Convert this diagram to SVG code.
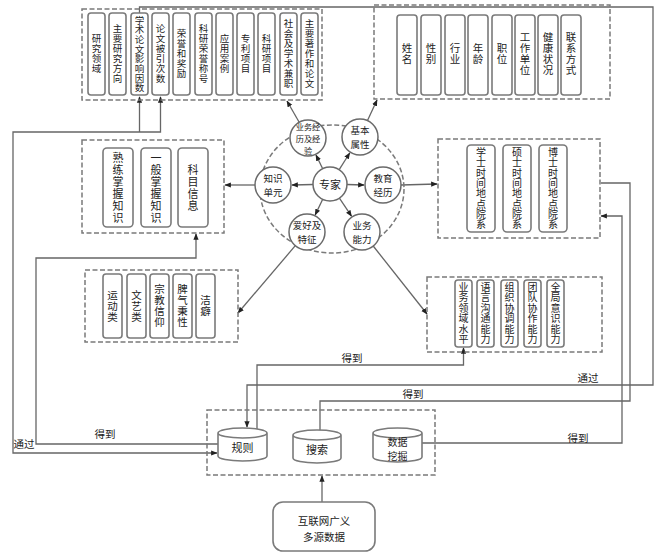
<svg xmlns="http://www.w3.org/2000/svg" width="657" height="553" viewBox="0 0 657 553">
<style>
.dash{fill:none;stroke:#7a7a7a;stroke-width:1.5;stroke-dasharray:5 2.5}
.box{fill:#fff;stroke:#7a7a7a;stroke-width:1.6}
.cir{fill:#fff;stroke:#6a6a6a;stroke-width:1.5}
.t{font-family:"Noto Sans CJK SC","Noto Sans CJK JP",sans-serif;fill:#222;text-anchor:middle;dominant-baseline:central}
.v{writing-mode:vertical-rl;text-orientation:upright}
.s8{font-size:8.2px}.s9{font-size:9.5px}.s10{font-size:10px}.s105{font-size:10.5px}.s11{font-size:11px}
.ls0{letter-spacing:0.2px}.ls1{letter-spacing:0.5px}.ls2{letter-spacing:1px}.ls3{letter-spacing:0.3px}
.ln{fill:none;stroke:#666;stroke-width:1.3}
.ar{marker-end:url(#ah)}
</style>
<defs>
<marker id="ah" viewBox="0 0 10 10" refX="9" refY="5" markerWidth="5" markerHeight="5" orient="auto-start-reverse"><path d="M0,1 L10,5 L0,9 z" fill="#222"/></marker>
</defs>
<rect width="657" height="553" fill="#fff"/>

<g id="connectors">
<path class="ln" d="M139.5,13 V7 H653 V385 H247 V427" marker-end="url(#ah)"/>
<path class="ln" d="M160.5,97 V132 H13 V453 H217" marker-start="url(#ah)" marker-end="url(#ah)"/>
<path class="ln ar" d="M139.5,132 V97"/>
<path class="ln ar" d="M218,444 H36 V258 H196 V234"/>
<path class="ln ar" d="M257,429 V365 H463.5 V348"/>
<path class="ln" d="M320,431 V401 H630 V183 H601"/>
<path class="ln ar" d="M422,443 H622 V216 H601"/>
<path class="ln ar" d="M322,502 V476"/>
<path class="ln ar" d="M299.2,122.3 L287,101"/>
<path class="ln ar" d="M367.5,120.6 L377,100"/>
<path class="ln ar" d="M255,185 L225,185"/>
<path class="ln ar" d="M401,185 L437,184"/>
<path class="ln ar" d="M295.3,245.7 L238,313"/>
<path class="ln ar" d="M373.2,246 L427,314"/>
<path class="ln ar" d="M322.7,168.7 L316,155"/>
<path class="ln ar" d="M339.2,169.7 L349.7,153"/>
<path class="ln ar" d="M313,184.5 L292,185"/>
<path class="ln ar" d="M347,184.5 L364,185"/>
<path class="ln ar" d="M322.7,199.3 L315.2,214.9"/>
<path class="ln ar" d="M339.4,198.1 L351.5,216.2"/>
<text class="t s105" x="24" y="443">通过</text>
<text class="t s105" x="105" y="433">得到</text>
<text class="t s105" x="352" y="357">得到</text>
<text class="t s105" x="588" y="377">通过</text>
<text class="t s105" x="413" y="393">得到</text>
<text class="t s105" x="578" y="437">得到</text>
</g>

<g id="g-research">
<rect class="dash" x="82" y="9" width="240" height="91"/>
<rect class="box" x="88" y="13" width="17" height="82" rx="3"/>
<rect class="box" x="109" y="13" width="17" height="82" rx="3"/>
<rect class="box" x="131" y="13" width="17" height="82" rx="3"/>
<rect class="box" x="152" y="13" width="17" height="82" rx="3"/>
<rect class="box" x="173" y="13" width="17" height="82" rx="3"/>
<rect class="box" x="195" y="13" width="17" height="82" rx="3"/>
<rect class="box" x="216" y="13" width="17" height="82" rx="3"/>
<rect class="box" x="237" y="13" width="17" height="82" rx="3"/>
<rect class="box" x="258" y="13" width="17" height="82" rx="3"/>
<rect class="box" x="280" y="13" width="17" height="82" rx="3"/>
<rect class="box" x="301" y="13" width="17" height="82" rx="3"/>
<text class="t v s9 ls1" x="96.5" y="54">研究领域</text>
<text class="t v s9 ls1" x="117.5" y="54">主要研究方向</text>
<text class="t v s9 ls0" x="139.5" y="54">学术论文影响因数</text>
<text class="t v s9 ls1" x="160.5" y="54">论文被引次数</text>
<text class="t v s9 ls1" x="181.5" y="54">荣誉和奖励</text>
<text class="t v s9 ls1" x="203.5" y="54">科研荣誉称号</text>
<text class="t v s9 ls1" x="224.5" y="54">应用案例</text>
<text class="t v s9 ls1" x="245.5" y="54">专利项目</text>
<text class="t v s9 ls1" x="266.5" y="54">科研项目</text>
<text class="t v s9 ls1" x="288.5" y="54">社会及学术兼职</text>
<text class="t v s9 ls1" x="309.5" y="54">主要著作和论文</text>
</g>

<g id="g-basic">
<rect class="dash" x="374" y="5" width="236" height="94"/>
<rect class="box" x="397" y="15" width="20" height="80" rx="3"/>
<rect class="box" x="421" y="15" width="20" height="80" rx="3"/>
<rect class="box" x="445" y="15" width="20" height="80" rx="3"/>
<rect class="box" x="468" y="15" width="20" height="80" rx="3"/>
<rect class="box" x="492" y="15" width="20" height="80" rx="3"/>
<rect class="box" x="515" y="15" width="20" height="80" rx="3"/>
<rect class="box" x="538" y="15" width="20" height="80" rx="3"/>
<rect class="box" x="561" y="15" width="20" height="80" rx="3"/>
<text class="t v s105 ls1" x="407" y="54">姓名</text>
<text class="t v s105 ls1" x="431" y="54">性别</text>
<text class="t v s105 ls1" x="455" y="54">行业</text>
<text class="t v s105 ls1" x="478" y="54">年龄</text>
<text class="t v s105 ls1" x="502" y="54">职位</text>
<text class="t v s105 ls1" x="525" y="54">工作单位</text>
<text class="t v s105 ls1" x="548" y="54">健康状况</text>
<text class="t v s105 ls1" x="571" y="54">联系方式</text>
</g>

<g id="g-knowledge">
<rect class="dash" x="82" y="140" width="142" height="93"/>
<rect class="box" x="103" y="148" width="30" height="79" rx="4"/>
<rect class="box" x="141" y="148" width="30" height="79" rx="4"/>
<rect class="box" x="178" y="148" width="30" height="79" rx="4"/>
<text class="t v s11 ls2" x="118" y="188">熟练掌握知识</text>
<text class="t v s11 ls2" x="156" y="188">一般掌握知识</text>
<text class="t v s11 ls2" x="193" y="188">科目信息</text>
</g>

<g id="g-education">
<rect class="dash" x="438" y="139" width="162" height="99"/>
<rect class="box" x="467" y="145" width="28" height="87" rx="4"/>
<rect class="box" x="503" y="145" width="28" height="87" rx="4"/>
<rect class="box" x="539" y="145" width="28" height="87" rx="4"/>
<text class="t v s10 ls3" x="481" y="188.5">学士时间地点院系</text>
<text class="t v s10 ls3" x="517" y="188.5">硕士时间地点院系</text>
<text class="t v s10 ls3" x="553" y="188.5">博士时间地点院系</text>
</g>

<g id="g-hobby">
<rect class="dash" x="85" y="270" width="153" height="72"/>
<rect class="box" x="103" y="274" width="19" height="64" rx="3"/>
<rect class="box" x="127" y="274" width="19" height="64" rx="3"/>
<rect class="box" x="150" y="274" width="19" height="64" rx="3"/>
<rect class="box" x="173" y="274" width="19" height="64" rx="3"/>
<rect class="box" x="196" y="274" width="19" height="64" rx="3"/>
<text class="t v s105 ls1" x="112.5" y="306">运动类</text>
<text class="t v s105 ls1" x="136.5" y="306">文艺类</text>
<text class="t v s105 ls1" x="159.5" y="306">宗教信仰</text>
<text class="t v s105 ls1" x="182.5" y="306">脾气秉性</text>
<text class="t v s105 ls1" x="205.5" y="306">洁癖</text>
</g>

<g id="g-ability">
<rect class="dash" x="427" y="277" width="175" height="75"/>
<rect class="box" x="455" y="280" width="17" height="67" rx="3"/>
<rect class="box" x="477" y="280" width="17" height="67" rx="3"/>
<rect class="box" x="501" y="280" width="17" height="67" rx="3"/>
<rect class="box" x="524" y="280" width="17" height="67" rx="3"/>
<rect class="box" x="547" y="280" width="17" height="67" rx="3"/>
<text class="t v s10 ls1" x="463.5" y="313.5">业务领域水平</text>
<text class="t v s10 ls1" x="485.5" y="313.5">语言沟通能力</text>
<text class="t v s10 ls1" x="509.5" y="313.5">组织协调能力</text>
<text class="t v s10 ls1" x="532.5" y="313.5">团队协作能力</text>
<text class="t v s10 ls1" x="555.5" y="313.5">全局意识能力</text>
</g>

<g id="g-expert">
<ellipse class="dash" cx="332" cy="189" rx="72" ry="64"/>
<g id="n-expert"><circle class="cir" cx="330" cy="184" r="17"/><text class="t s11" x="330" y="184">专家</text></g>
<g id="n-work"><circle class="cir" cx="308" cy="138" r="18"/><text class="t s8"><tspan x="308" y="126">业务经</tspan><tspan x="308" y="138">历及经</tspan><tspan x="308" y="150">验</tspan></text></g>
<g id="n-basic"><circle class="cir" cx="360" cy="137" r="18"/><text class="t s9"><tspan x="360" y="130">基本</tspan><tspan x="360" y="144">属性</tspan></text></g>
<g id="n-knowledge"><circle class="cir" cx="273" cy="185" r="18"/><text class="t s9"><tspan x="273" y="178">知识</tspan><tspan x="273" y="192">单元</tspan></text></g>
<g id="n-education"><circle class="cir" cx="383" cy="185" r="18"/><text class="t s9"><tspan x="383" y="178">教育</tspan><tspan x="383" y="192">经历</tspan></text></g>
<g id="n-hobby"><circle class="cir" cx="307" cy="232" r="18"/><text class="t s9"><tspan x="307" y="225">爱好及</tspan><tspan x="307" y="239">特征</tspan></text></g>
<g id="n-ability"><circle class="cir" cx="362" cy="232" r="18"/><text class="t s9"><tspan x="362" y="225">业务</tspan><tspan x="362" y="239">能力</tspan></text></g>
</g>

<g id="g-methods">
<rect class="dash" x="207" y="410" width="228" height="65"/>
<g id="n-rule">
<path class="box" d="M218,433 A24.5,5 0 0 1 267,433 V456 A24.5,5 0 0 1 218,456 Z M218,433 A24.5,5 0 0 0 267,433"/>
<text class="t s11" x="242.5" y="447">规则</text>
</g>
<g id="n-search">
<path class="box" d="M293,435 A24,5 0 0 1 341,435 V458 A24,5 0 0 1 293,458 Z M293,435 A24,5 0 0 0 341,435"/>
<text class="t s11" x="317" y="449">搜索</text>
</g>
<g id="n-mining">
<path class="box" d="M373,433 A24.5,5 0 0 1 422,433 V457 A24.5,5 0 0 1 373,457 Z M373,433 A24.5,5 0 0 0 422,433"/>
<text class="t s10"><tspan x="397.5" y="441">数据</tspan><tspan x="397.5" y="455">挖掘</tspan></text>
</g>
</g>

<g id="n-data">
<rect class="box" x="273" y="502" width="102" height="49" rx="10"/>
<text class="t s105"><tspan x="324" y="520">互联网广义</tspan><tspan x="324" y="536">多源数据</tspan></text>
</g>
</svg>
